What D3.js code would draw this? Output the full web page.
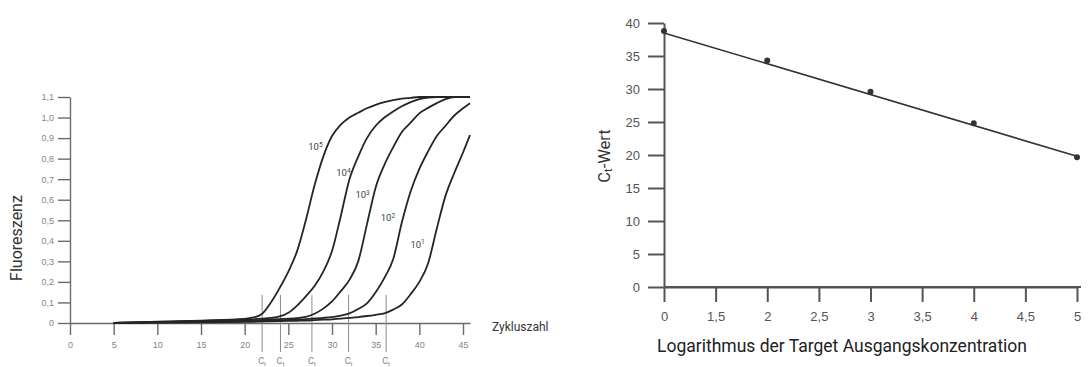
<!DOCTYPE html>
<html>
<head>
<meta charset="utf-8">
<script src="https://cdn.jsdelivr.net/npm/d3@7"></script>
<style>
  body { margin: 0; background: #fff; }
  svg { display: block; font-family: Roboto, "Liberation Sans", sans-serif; }
</style>
</head>
<body>
<div id="chart"></div>
<script>
// left: amplification curves (fluorescence per cycle)
const cycles = [5, 10, 15, 20, 21, 22, 23, 24, 25, 26, 27, 28, 29, 30, 31, 32, 33, 34, 35, 36, 37, 38, 39, 40, 41, 42, 43, 44, 45, 45.8];
const fluor1e5 = [0, 0.006, 0.012, 0.02, 0.027, 0.045, 0.10, 0.17, 0.25, 0.35, 0.50, 0.67, 0.81, 0.91, 0.965, 1.0, 1.023, 1.045, 1.062, 1.075, 1.085, 1.092, 1.096, 1.1, 1.1, 1.1, 1.1, 1.1, 1.1, 1.1];
const fluor1e4 = [0, 0.005, 0.01, 0.016, 0.018, 0.021, 0.025, 0.032, 0.05, 0.085, 0.13, 0.18, 0.25, 0.35, 0.52, 0.70, 0.81, 0.90, 0.96, 1.0, 1.03, 1.055, 1.075, 1.09, 1.097, 1.1, 1.1, 1.1, 1.1, 1.1];
const fluor1e3 = [0, 0.004, 0.008, 0.012, 0.013, 0.015, 0.017, 0.019, 0.021, 0.024, 0.03, 0.045, 0.07, 0.105, 0.155, 0.21, 0.30, 0.48, 0.66, 0.77, 0.855, 0.93, 0.975, 1.02, 1.047, 1.07, 1.09, 1.1, 1.1, 1.1];
const fluor1e2 = [0, 0.003, 0.005, 0.008, 0.009, 0.01, 0.012, 0.013, 0.015, 0.017, 0.019, 0.022, 0.025, 0.029, 0.036, 0.047, 0.068, 0.096, 0.15, 0.22, 0.31, 0.49, 0.64, 0.75, 0.835, 0.91, 0.96, 1.01, 1.045, 1.07];
const fluor1e1 = [0, 0.002, 0.003, 0.005, 0.006, 0.007, 0.008, 0.009, 0.01, 0.011, 0.012, 0.014, 0.016, 0.018, 0.021, 0.025, 0.029, 0.034, 0.04, 0.047, 0.065, 0.09, 0.14, 0.2, 0.29, 0.46, 0.62, 0.73, 0.83, 0.915];
const curveExponents = ["5", "4", "3", "2", "1"];
const labelCycle = [28.1, 31.3, 33.5, 36.4, 39.8];
const labelFluor = [0.856, 0.73, 0.623, 0.511, 0.38];
const ctCycles = [22, 24.1, 27.7, 31.9, 36.2];
const leftXTicks = [0, 5, 10, 15, 20, 25, 30, 35, 40, 45];
const leftYTicks = [0, 0.1, 0.2, 0.3, 0.4, 0.5, 0.6, 0.7, 0.8, 0.9, 1.0, 1.1];

// right: standard curve
const rightXLabels = ["0", "1,5", "2", "2,5", "3", "3,5", "4", "4,5", "5"];
const pointLabels = ["0", "2", "3", "4", "5"];
const ctValues = [38.8, 34.3, 29.6, 24.8, 19.65];
const fitLabels = ["0", "5"];
const fitValues = [38.5, 19.8];
const rightYTicks = [0, 5, 10, 15, 20, 25, 30, 35, 40];

const de = d3.formatLocale({ decimal: ",", thousands: ".", grouping: [3], currency: ["", " €"] });
const f1 = de.format(".1f");

const svg = d3.select('#chart').append('svg')
  .attr('width', 1088)
  .attr('height', 367);

// ---------- left chart ----------
const xL = d3.scaleLinear().domain([0, 45.8]).range([70, 470]);
const yL = d3.scaleLinear().domain([0, 1.1]).range([323, 97]);

const gxL = svg.append('g')
  .attr('transform', 'translate(0,323)')
  .call(d3.axisBottom(xL).tickValues(leftXTicks).tickSize(12).tickSizeOuter(0).tickPadding(7));
const gyL = svg.append('g')
  .attr('transform', 'translate(70,0)')
  .call(d3.axisLeft(yL).tickValues(leftYTicks).tickSize(12).tickSizeOuter(0).tickPadding(4)
    .tickFormat(d => d === 0 ? "0" : f1(d)));

[gxL, gyL].forEach(g => {
  g.selectAll('path, line').attr('stroke', '#6a6a6a').attr('stroke-width', 1.4);
  g.selectAll('text').attr('fill', '#858585').attr('font-size', '9px');
});

// Ct threshold lines
svg.selectAll('.ct')
  .data(ctCycles)
  .enter().append('line')
  .attr('x1', d => xL(d)).attr('x2', d => xL(d))
  .attr('y1', yL(0.137)).attr('y2', 352)
  .attr('stroke', '#8d8d8d')
  .attr('stroke-width', 1);

const ctText = svg.selectAll('.ctlab')
  .data(ctCycles)
  .enter().append('text')
  .attr('x', d => xL(d))
  .attr('y', 364)
  .attr('text-anchor', 'middle')
  .attr('fill', '#858585')
  .attr('font-size', '9px');
ctText.append('tspan').text('C');
ctText.append('tspan').attr('font-size', '6px').attr('dy', 1.5).text('t');

const series = [fluor1e5, fluor1e4, fluor1e3, fluor1e2, fluor1e1];
const line = d3.line()
  .x((d, i) => xL(cycles[i]))
  .y(d => yL(d))
  .curve(d3.curveMonotoneX);

svg.selectAll('.amp')
  .data(series)
  .enter().append('path')
  .attr('fill', 'none')
  .attr('stroke', '#252525')
  .attr('stroke-width', 1.8)
  .attr('d', line);

const lab = svg.selectAll('.clab')
  .data(curveExponents)
  .enter().append('text')
  .attr('x', (d, i) => xL(labelCycle[i]))
  .attr('y', (d, i) => yL(labelFluor[i]) + 3)
  .attr('text-anchor', 'middle')
  .attr('fill', '#444')
  .attr('font-size', '9.5px');
lab.append('tspan').text('10');
lab.append('tspan').attr('font-size', '6.5px').attr('dy', -3.5).text(d => d);

svg.append('text')
  .attr('x', 492)
  .attr('y', 331)
  .attr('fill', '#333')
  .attr('font-size', '12px')
  .text('Zykluszahl');

svg.append('text')
  .attr('transform', 'translate(22,238) rotate(-90)')
  .attr('text-anchor', 'middle')
  .attr('fill', '#333')
  .attr('font-size', '16px')
  .text('Fluoreszenz');

// ---------- right chart ----------
const xR = d3.scalePoint().domain(rightXLabels).range([664, 1077]);
const yR = d3.scaleLinear().domain([0, 40]).range([287, 23]);

svg.append('line')
  .attr('x1', 664).attr('x2', 1081)
  .attr('y1', 287).attr('y2', 287)
  .attr('stroke', '#555').attr('stroke-width', 2);

const gxR = svg.append('g')
  .attr('transform', 'translate(0,287)')
  .call(d3.axisBottom(xR).tickSize(15).tickSizeOuter(0).tickPadding(10));
const gyR = svg.append('g')
  .attr('transform', 'translate(664,0)')
  .call(d3.axisLeft(yR).tickValues(rightYTicks).tickSize(16).tickSizeOuter(0).tickPadding(8));

[gxR, gyR].forEach(g => {
  g.selectAll('path, line').attr('stroke', '#555').attr('stroke-width', 2);
  g.selectAll('text').attr('fill', '#555').attr('font-size', '13px');
});

const fitLine = d3.line()
  .x((d, i) => xR(fitLabels[i]))
  .y(d => yR(d));

svg.append('path')
  .datum(fitValues)
  .attr('fill', 'none')
  .attr('stroke', '#333')
  .attr('stroke-width', 1.6)
  .attr('d', fitLine);

svg.selectAll('.dot')
  .data(ctValues)
  .enter().append('circle')
  .attr('cx', (d, i) => xR(pointLabels[i]))
  .attr('cy', d => yR(d))
  .attr('r', 3)
  .attr('fill', '#333');

svg.append('text')
  .attr('x', 657)
  .attr('y', 352)
  .attr('fill', '#222')
  .attr('font-size', '17.5px')
  .text('Logarithmus der Target Ausgangskonzentration');

const yt = svg.append('text')
  .attr('transform', 'translate(610,156) rotate(-90)')
  .attr('text-anchor', 'middle')
  .attr('fill', '#333')
  .attr('font-size', '16.5px');
yt.append('tspan').text('C');
yt.append('tspan').attr('font-size', '11px').attr('dy', 2).text('t');
yt.append('tspan').attr('dy', -2).text('-Wert');
</script>
</body>
</html>
